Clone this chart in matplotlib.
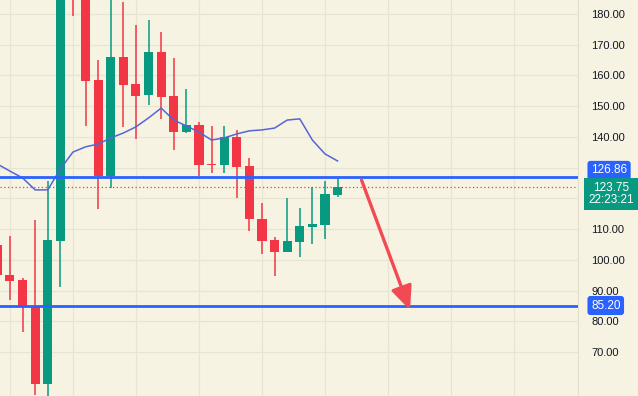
import matplotlib.pyplot as plt
import numpy as np

# candle data (first candle is cut by the left edge)
opens = [104.9, 95.1, 93.5, 84.7, 59.7, 106.2, 200.0, 190.0, 158.5, 127.3,
         166.0, 157.2, 153.7, 167.6, 153.3, 141.6, 143.9, 131.2, 130.9, 140.0,
         130.6, 113.3, 106.5, 102.6, 105.9, 110.7, 111.4, 121.1]
closes = [95.1, 93.2, 84.7, 59.7, 106.5, 192.0, 188.0, 158.2, 127.3, 166.0,
          156.9, 153.3, 167.6, 153.0, 141.6, 143.9, 130.9, 130.9, 140.0, 130.2,
          113.3, 106.2, 102.6, 106.2, 111.1, 111.7, 121.5, 123.75]
highs = [106.0, 107.8, 94.0, 113.0, 125.7, 198.0, 204.0, 194.0, 165.0, 190.0,
         183.9, 176.4, 178.1, 174.1, 165.7, 155.6, 144.9, 143.6, 143.6, 142.3,
         133.2, 118.5, 107.5, 120.2, 116.9, 123.7, 125.7, 127.0]
lows = [93.0, 87.0, 76.6, 56.1, 54.0, 91.2, 179.4, 143.6, 116.6, 123.4,
        143.3, 139.4, 150.4, 145.9, 135.8, 141.3, 127.3, 128.3, 128.3, 120.2,
        109.4, 102.0, 94.8, 102.6, 101.0, 105.2, 106.8, 120.5]
ma = [131.2, 128.9, 126.7, 122.8, 122.8, 129.6, 135.1, 136.8, 137.7, 139.7,
      141.3, 143.3, 146.2, 149.4, 145.5, 143.6, 141.6, 139.0, 139.7, 141.0,
      142.0, 142.3, 142.9, 145.5, 145.9, 139.0, 134.5, 132.2]

resistance = 126.86
support = 85.20
last_price = 123.75
countdown = '22:23:21'
arrow_from = (29.9, 126.0)
arrow_to = (33.75, 83.7)

y_ticks = [70, 80, 90, 100, 110, 120, 130, 140, 150, 160, 170, 180]
hidden_ticks = [120, 130]

bg = '#f7f3e3'
up = '#089981'
down = '#f23645'
blue = '#2962ff'

x = np.arange(1, len(opens) + 1)
opens = np.array(opens)
closes = np.array(closes)
colors = [up if c >= o else down for o, c in zip(opens, closes)]
bottoms = np.minimum(opens, closes)
heights = np.maximum(np.abs(closes - opens), 0.4)

fig = plt.figure(figsize=(6.38, 3.96), dpi=100, facecolor=bg)
ax = fig.add_axes([0, 0, 578 / 638, 1])
ax.set_facecolor(bg)

ax.set_xlim(1.21, 47.08)
ax.set_ylim(55.77, 184.55)

# grid
ax.set_xticks(np.arange(2, 47, 5))
ax.set_yticks(y_ticks)
ax.set_yticklabels(['' if t in hidden_ticks else f'{t:.2f}' for t in y_ticks],
                   fontfamily='Liberation Sans', fontsize=8, color='#131722')
ax.grid(True, color='#e8e4d2', lw=0.9)
ax.set_axisbelow(True)
ax.tick_params(axis='x', length=0, labelbottom=False)
ax.tick_params(axis='y', length=0, left=False, labelleft=False,
               right=True, labelright=True, pad=9.5)
for side in ['top', 'bottom', 'left']:
    ax.spines[side].set_visible(False)
ax.spines['right'].set_color('#e3dfcd')

# candles
ax.vlines(x, lows, highs, colors=colors, lw=1.1, zorder=2)
ax.bar(x, heights, bottom=bottoms, width=0.72, color=colors, zorder=3)

# moving average
ax.plot(x, ma, color='#5466d6', lw=1.1, zorder=4)

# levels
ax.axhline(resistance, color=blue, lw=2, zorder=5)
ax.axhline(support, color=blue, lw=2, zorder=5)
ax.axhline(last_price, color=down, lw=0.9, ls=(0, (1, 2)), zorder=1)

# arrow
ax.annotate('', xy=arrow_to, xytext=arrow_from,
            arrowprops=dict(arrowstyle='-|>,head_length=0.9,head_width=0.4',
                            color='#f24a53', lw=2.4, mutation_scale=16,
                            shrinkA=0, shrinkB=0), zorder=6)

# price labels on the axis
ytr = ax.get_yaxis_transform()
lab = dict(fontfamily='Liberation Sans', fontsize=8.5, color='white',
           xycoords=ytr, annotation_clip=False, textcoords='offset pixels')
ax.annotate(f'{resistance:.2f}', xy=(1, resistance), xytext=(13, 7), va='center',
            bbox=dict(boxstyle='round,pad=0.3,rounding_size=0.25', fc=blue, ec='none'),
            **lab)
ax.annotate(f'{support:.2f}', xy=(1, support), xytext=(13, 0), va='center',
            bbox=dict(boxstyle='round,pad=0.3,rounding_size=0.25', fc=blue, ec='none'),
            **lab)
ax.annotate(f'{last_price:.2f}\n{countdown}', xy=(1, last_price), xytext=(33, 5),
            va='top', ha='center', multialignment='center', linespacing=1.0,
            bbox=dict(boxstyle='square,pad=0.35', fc=up, ec='none'),
            **lab)

fig.savefig('out.png', dpi=100, facecolor=bg)
